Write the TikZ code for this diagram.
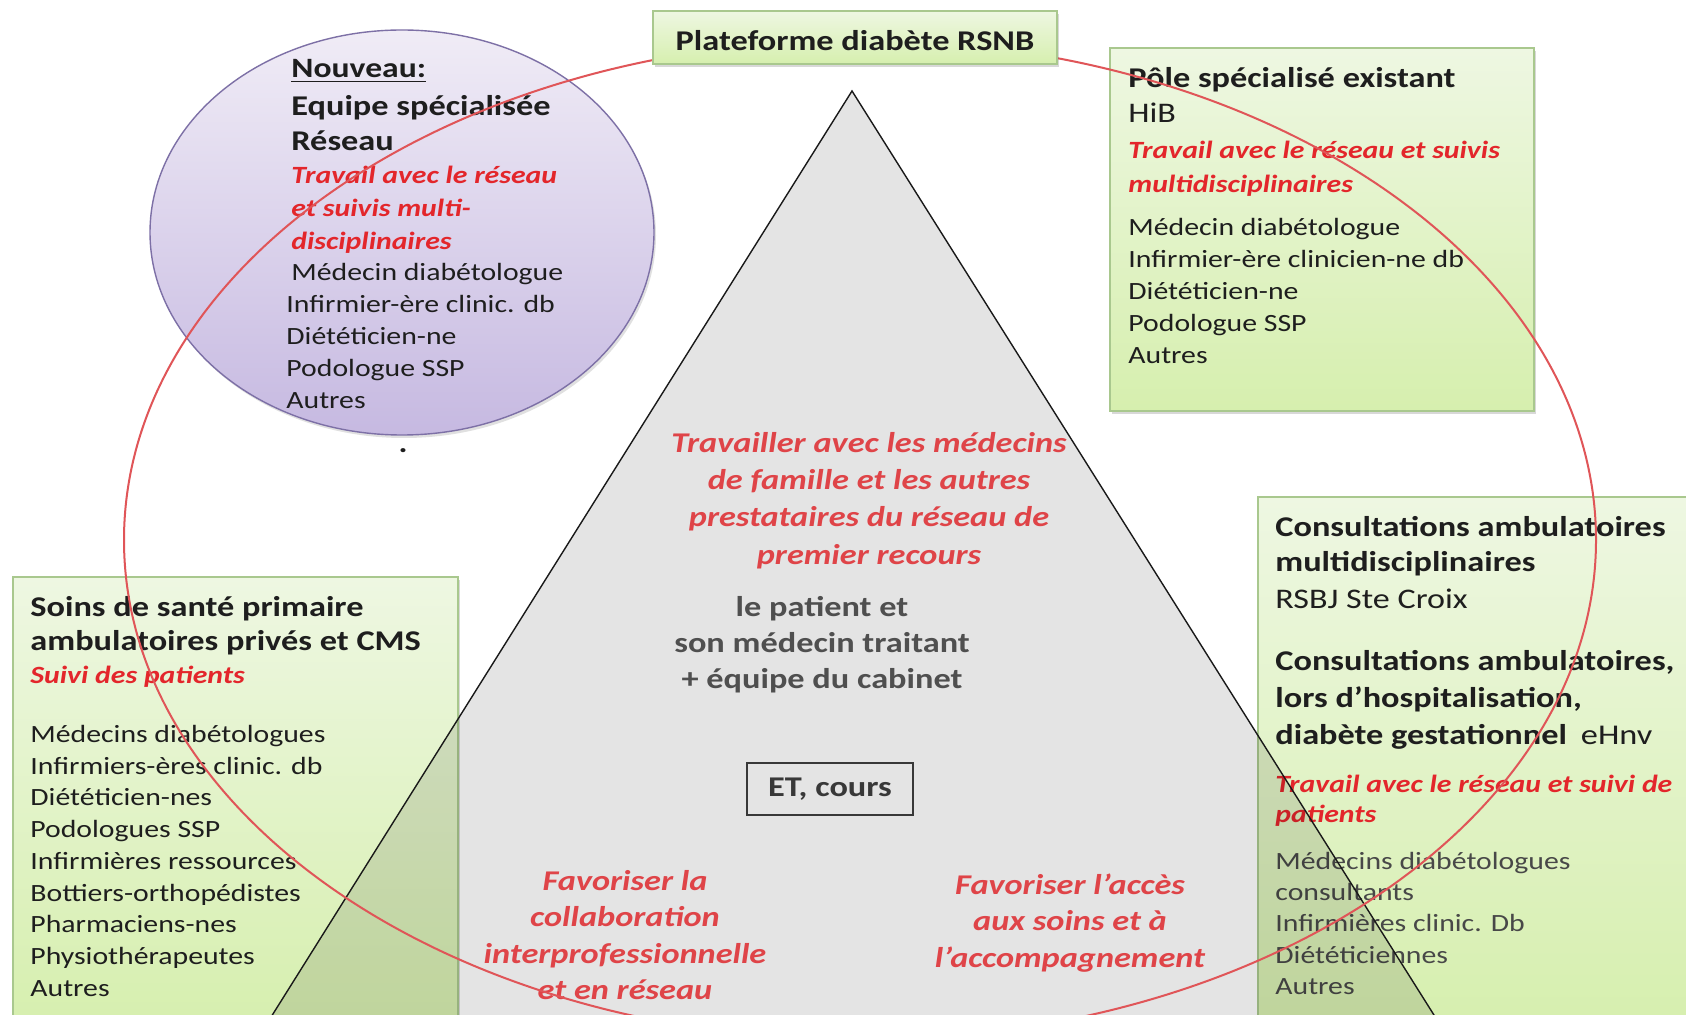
\documentclass[tikz,border=0pt]{standalone}
\usepackage{fontspec}
\setmainfont{Carlito}[FakeStretch=1.2]
\usetikzlibrary{shapes.geometric,shadows}
\definecolor{ink}{HTML}{1E1E1E}
\definecolor{redtxt}{HTML}{E3262B}
\definecolor{redtri}{HTML}{DF4448}
\definecolor{graytxt}{HTML}{4F4F4F}
\definecolor{listgray}{HTML}{484848}
\definecolor{gtop}{HTML}{EEF7E2}
\definecolor{gbot}{HTML}{D6EFAE}
\definecolor{gline}{HTML}{A9C88E}
\definecolor{ptop}{HTML}{F0ECF6}
\definecolor{pbot}{HTML}{C6B9E1}
\definecolor{pline}{HTML}{7D70A6}
\definecolor{ringred}{HTML}{E05558}
\begin{document}
\begin{tikzpicture}[x=0.5pt,y=-0.5pt,
  boxG/.style={draw=gline, line width=0.6pt, top color=gtop, bottom color=gbot, inner sep=0pt,
    drop shadow={shadow xshift=1pt, shadow yshift=-1.5pt, opacity=0.25, fill=black!60}},
  boxP/.style={ellipse, draw=pline, line width=0.7pt, top color=ptop, bottom color=pbot, inner sep=0pt,
    drop shadow={shadow xshift=1pt, shadow yshift=-1.5pt, opacity=0.2, fill=black!60}},
  txtHead/.style={anchor=base west, inner sep=0pt, align=left, text=ink, font=\fontsize{14.3}{#1}\selectfont\bfseries},
  txtHead/.default=17.5,
  txtSub/.style={anchor=base west, inner sep=0pt, align=left, text=ink, font=\fontsize{14.2}{17}\selectfont},
  txtRed/.style={anchor=base west, inner sep=0pt, align=left, text=redtxt, font=\fontsize{12.4}{#1}\selectfont\bfseries\itshape},
  txtRed/.default=16.5,
  txtList/.style={anchor=base west, inner sep=0pt, align=left, text=ink, font=\fontsize{12.4}{#1}\selectfont},
  txtList/.default=15.9,
  txtTri/.style={anchor=base, inner sep=0pt, align=center, text=redtri, font=\fontsize{14.3}{#1}\selectfont\bfseries\itshape},
  txtTri/.default=18.3,
  txtMid/.style={anchor=base, inner sep=0pt, align=center, text=graytxt, font=\fontsize{14.3}{18}\selectfont\bfseries},
  ringline/.style={draw=ringred, line width=1pt},
  triedge/.style={draw=black!90, line width=0.7pt}
]
\useasboundingbox (0,0) rectangle (1686,1015);
\fill[white] (0,0) rectangle (1686,1015);
\clip (0,0) rectangle (1686,1015);

% ---------- containers ----------
\node[boxP, minimum width=252pt, minimum height=202.5pt] (purple) at (402,232.5) {};
\node[boxG, minimum width=212pt, minimum height=181.5pt] (hib) at (1322,229.5) {};
\node[boxG, minimum width=222.5pt, minimum height=226.5pt] (soins) at (235.5,803.5) {};
\node[boxG, minimum width=221pt, minimum height=266.5pt] (consult) at (1479,763.5) {};

% (multi-line nodes are placed by the baseline of their LAST line)
% ---------- purple ellipse text ----------
\node[txtHead, font=\fontsize{14}{17}\selectfont\bfseries] (pNew) at (291,78) {\underline{Nouveau:}};
\node[txtHead=17.25] (pHead) at (291,150.1) {Equipe spécialisée\\Réseau};
\node[txtRed=16.5] (pRed) at (291,250) {Travail avec le réseau\\et suivis multi-\\disciplinaires};
\node[txtList=15.9] (pList) at (286,408.2) {\hspace{2.5pt}Médecin diabétologue\\Infirmier-ère clinic. db\\Diététicien-ne\\Podologue SSP\\Autres};
\node[anchor=base, inner sep=0pt, text=ink, font=\fontsize{14}{16}\selectfont\bfseries] (pDot) at (403,453) {.};

% ---------- top right box text ----------
\node[txtHead] (hHead) at (1128,87.6) {Pôle spécialisé existant};
\node[txtSub] (hSub) at (1128,123) {HiB};
\node[txtRed=16.75] (hRed) at (1128,192.1) {Travail avec le réseau et suivis\\multidisciplinaires};
\node[txtList=16] (hList) at (1128,364) {Médecin diabétologue\\Infirmier-ère clinicien-ne db\\Diététicien-ne\\Podologue SSP\\Autres};

% ---------- left box text ----------
\node[txtHead=16.7] (lHead) at (30,650.1) {Soins de santé primaire\\ambulatoires privés et CMS};
\node[txtRed] (lRed) at (30,683) {Suivi des patients};
\node[txtList=15.85] (lList) at (30,996.1) {Médecins diabétologues\\Infirmiers-ères clinic. db\\Diététicien-nes\\Podologues SSP\\Infirmières ressources\\Bottiers-orthopédistes\\Pharmaciens-nes\\Physiothérapeutes\\Autres};

% ---------- right box text ----------
\node[txtHead=17.25] (rHead1) at (1275,571.5) {Consultations ambulatoires\\multidisciplinaires};
\node[txtSub] (rSub1) at (1275,609) {RSBJ Ste Croix};
\node[txtHead=18.5] (rHead2) at (1275,744.5) {Consultations ambulatoires,\\lors d’hospitalisation,\\diabète gestationnel\hspace{7pt}{\mdseries eHnv}};
\node[txtRed=15] (rRed) at (1275,822) {Travail avec le réseau et suivi de\\patients};
\node[txtList=15.6, text=listgray] (rList) at (1275,994.2) {Médecins diabétologues\\consultants\\Infirmières clinic. Db\\Diététiciennes\\Autres};

% ---------- pyramid ----------
\coordinate (apex) at (852,91);
\coordinate (baseL) at (219,1100);
\coordinate (baseR) at (1487.5,1100);
\fill[black, fill opacity=0.105] (apex) -- (baseL) -- (baseR) -- cycle;
\draw[triedge] (baseL) -- (apex) -- (baseR);

\node[txtTri=18.7] (tTop) at (869,564.2) {Travailler avec les médecins\\de famille et les autres\\prestataires du réseau de\\premier recours};
\node[txtMid] (tMid) at (822,688.7) {le patient et\\son médecin traitant\\+ équipe du cabinet};
\node[draw=black!78, line width=0.75pt, minimum width=83pt, minimum height=26pt, inner sep=0pt,
      text=black!78, font=\fontsize{14.3}{17}\selectfont\bfseries] (etc) at (830,789) {ET, cours};
\node[txtTri=18.25] (tLeft) at (625,999.5) {Favoriser la\\collaboration\\interprofessionnelle\\et en réseau};
\node[txtTri=18.3] (tRight) at (1070,967.2) {Favoriser l’accès\\aux soins et à\\l’accompagnement};

% ---------- red network ellipse ----------
\draw[ringline] (860,540) ellipse [x radius=368pt, y radius=250pt];

% ---------- platform box ----------
\node[boxG, minimum width=202pt, minimum height=26.5pt] (plat) at (855,37.5) {};
\node[anchor=base, inner sep=0pt, text=ink, font=\fontsize{14.3}{17}\selectfont\bfseries] (platT) at (855,51) {Plateforme diabète RSNB};
\end{tikzpicture}
\end{document}
